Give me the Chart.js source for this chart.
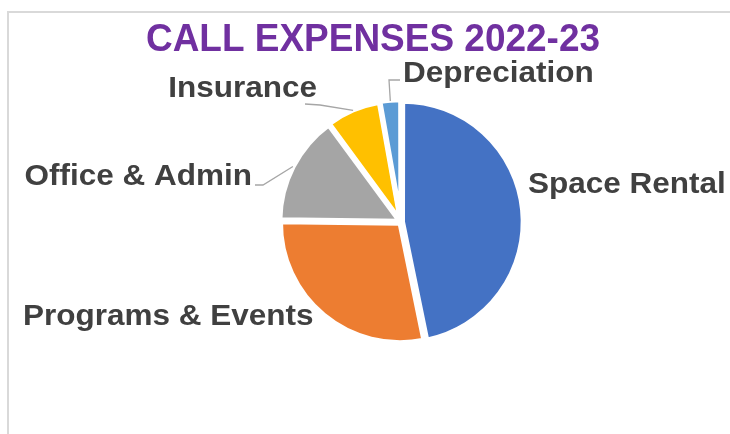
<!DOCTYPE html>
<html><head><meta charset="utf-8">
<script src="https://cdn.jsdelivr.net/npm/chart.js@4/dist/chart.umd.min.js"></script>
<style>
html,body{margin:0;padding:0;background:#fff;overflow:hidden;width:730px;height:434px;}
#frame{position:absolute;left:7px;top:11px;width:800px;height:500px;border:2px solid #d9d9d9;box-sizing:border-box;}
canvas{position:absolute;left:0;top:0;}
</style></head><body>
<div id="frame"></div>
<canvas id="c" width="730" height="434"></canvas>
<script>
const titleText = 'CALL EXPENSES 2022-23';
const categories = ['Space Rental', 'Programs & Events', 'Office & Admin', 'Insurance', 'Depreciation'];
const values = [46.8, 28.4, 14.7, 7.3, 2.8];
const colors = ['#4472C4', '#ED7D31', '#A5A5A5', '#FFC000', '#5B9BD5'];

// label placement, relative to the pie centre (px)
const labelPlacement = [
  {tx: 127, ty: -29, align: 'left'},
  {tx: -378, ty: 103, align: 'left'},
  {tx: -149, ty: -37, align: 'right', elbow: [-138, -37], end: [-146, -37]},
  {tx: -84, ty: -125, align: 'right', elbow: [-81, -117], end: [-96, -118]},
  {tx: 2, ty: -140, align: 'left', elbow: [-12, -142], end: [-1, -142]}
];

const labelPlugin = {
  id: 'labels',
  afterDraw(chart) {
    const ctx = chart.ctx;
    // title
    ctx.save();
    ctx.fillStyle = '#7030A0';
    ctx.font = 'bold 39px "Liberation Sans", Arial, sans-serif';
    ctx.textAlign = 'center';
    ctx.textBaseline = 'alphabetic';
    ctx.translate(373, 51);
    ctx.scale(0.948, 1);
    ctx.fillText(titleText, 0, 0);
    ctx.restore();

    const meta = chart.getDatasetMeta(0);
    const ds = chart.data.datasets[0];
    meta.data.forEach((arc, i) => {
      const p = arc.getProps(['x', 'y', 'startAngle', 'endAngle', 'outerRadius']);
      const cx = p.x, cy = p.y;
      const lp = labelPlacement[i];
      if (lp.elbow) {
        const mid = (p.startAngle + p.endAngle) / 2;
        const r = p.outerRadius - ds.borderWidth / 2 + 3 + ds.offset / 4;
        ctx.save();
        ctx.strokeStyle = '#A6A6A6';
        ctx.lineWidth = 1.3;
        ctx.beginPath();
        ctx.moveTo(cx + Math.cos(mid) * r, cy + Math.sin(mid) * r);
        ctx.lineTo(cx + lp.elbow[0], cy + lp.elbow[1]);
        ctx.lineTo(cx + lp.end[0], cy + lp.end[1]);
        ctx.stroke();
        ctx.restore();
      }
      ctx.save();
      ctx.fillStyle = '#404040';
      ctx.font = 'bold 29px "Liberation Sans", Arial, sans-serif';
      ctx.textAlign = lp.align;
      ctx.textBaseline = 'alphabetic';
      ctx.translate(cx + lp.tx, cy + lp.ty);
      ctx.scale(1.086, 1);
      ctx.fillText(chart.data.labels[i], 0, 0);
      ctx.restore();
    });
  }
};

new Chart(document.getElementById('c'), {
  type: 'pie',
  data: {
    labels: categories,
    datasets: [{
      data: values,
      backgroundColor: colors,
      borderColor: '#ffffff',
      borderWidth: 5,
      borderJoinStyle: 'round',
      offset: 6,
      radius: 119.5
    }]
  },
  options: {
    responsive: false,
    animation: false,
    devicePixelRatio: 1,
    layout: {padding: {left: 170, right: 98, top: 100, bottom: 90}},
    plugins: {
      legend: {display: false},
      tooltip: {enabled: false},
      title: {display: false}
    }
  },
  plugins: [labelPlugin]
});
</script>
</body></html>
